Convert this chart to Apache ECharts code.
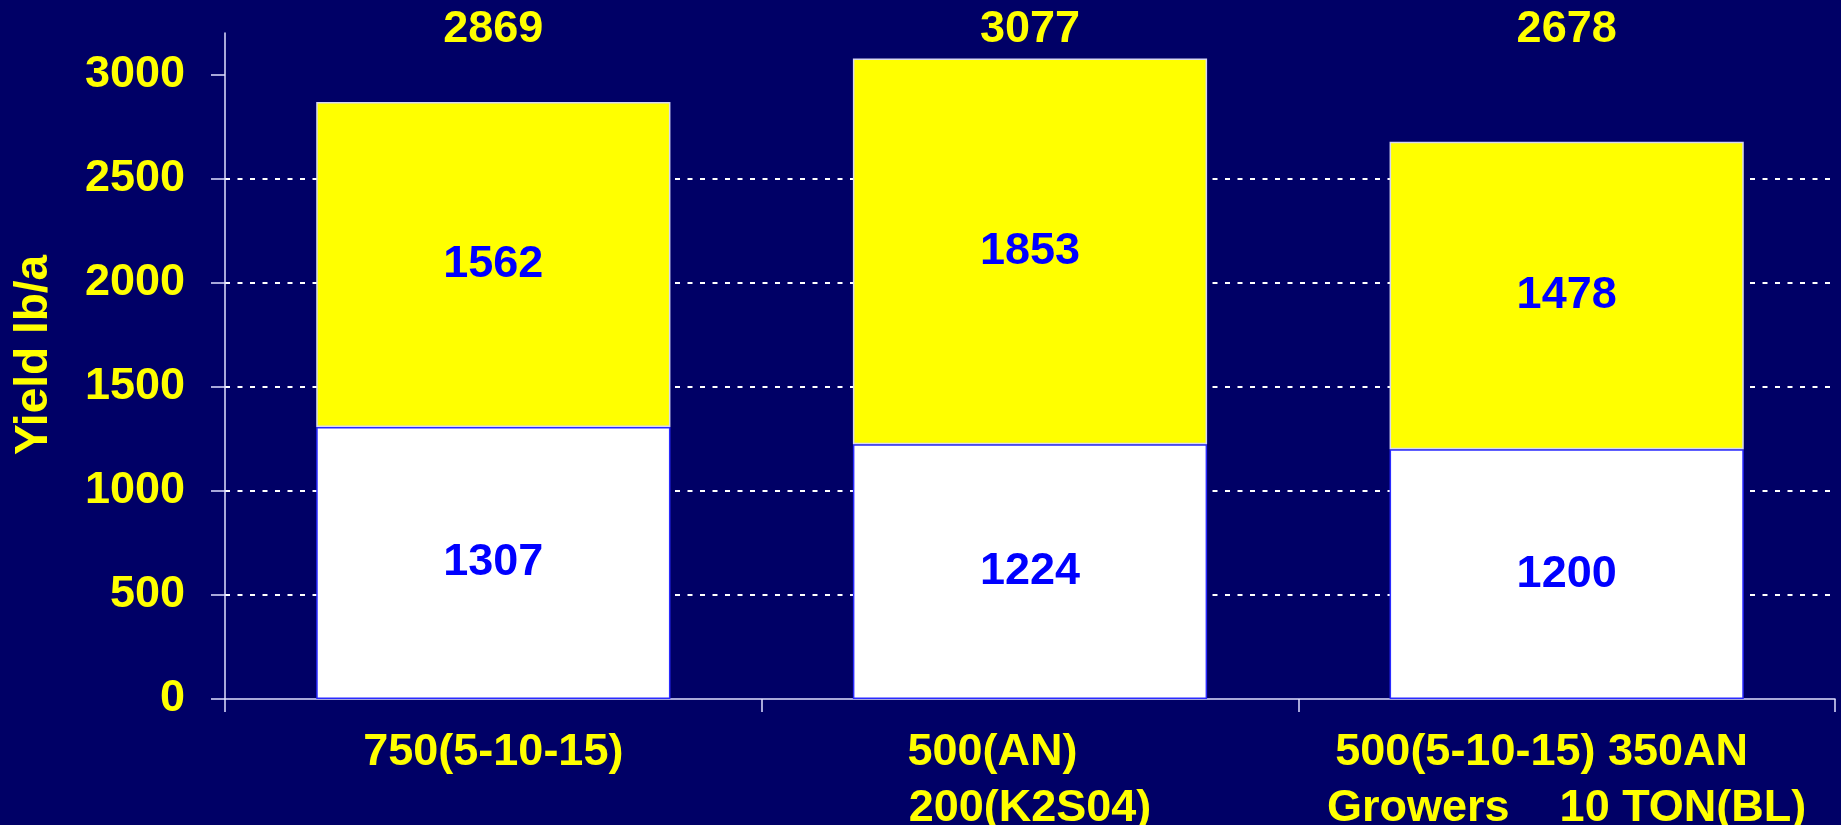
<!DOCTYPE html>
<html>
<head>
<meta charset="utf-8">
<script src="https://cdn.jsdelivr.net/npm/echarts@6/dist/echarts.min.js"></script>
<style>
html,body{margin:0;padding:0;background:#000066;}
#chart{width:1841px;height:825px;}
</style>
</head>
<body>
<div id="chart"></div>
<script>
const categories = [
  '750(5-10-15)',
  '500(AN)\u00a0\u00a0\u00a0\u00a0\u00a0\u00a0\n200(K2S04)',
  '500(5-10-15) 350AN\u00a0\u00a0\u00a0\u00a0\nGrowers\u00a0\u00a0\u00a0\u00a010 TON(BL)'
];
const baseValues = [1307, 1224, 1200];
const topValues = [1562, 1853, 1478];
const totalLabels = ['2869', '3077', '2678'];
const yTicks = [0, 500, 1000, 1500, 2000, 2500, 3000];

const FONT = '"Liberation Sans", Arial, sans-serif';
const FS = 45;
const YELLOW = '#ffff00';

const chart = echarts.init(document.getElementById('chart'), null, {renderer: 'canvas'});
chart.setOption({
  backgroundColor: '#000066',
  animation: false,
  grid: {left: 225, right: 6, top: 33, bottom: 126, containLabel: false, outerBoundsMode: 'none'},
  xAxis: [
    {
      type: 'category',
      data: categories,
      axisLine: {lineStyle: {color: '#e0e0ff', width: 1.5}},
      axisTick: {show: true, length: 13, lineStyle: {color: '#e0e0ff', width: 1.5}},
      axisLabel: {
        color: YELLOW, fontFamily: FONT, fontWeight: 'bold', fontSize: FS,
        lineHeight: 56, margin: 26, interval: 0, hideOverlap: false
      }
    },
    {
      type: 'category',
      position: 'top',
      data: totalLabels,
      axisLine: {show: false},
      axisTick: {show: false},
      axisLabel: {
        color: YELLOW, fontFamily: FONT, fontWeight: 'bold', fontSize: FS,
        margin: -19, interval: 0
      }
    }
  ],
  yAxis: {
    type: 'value',
    min: 0,
    max: 3200,
    interval: 500,
    name: 'Yield lb/a',
    nameLocation: 'middle',
    nameGap: 168,
    nameTextStyle: {color: YELLOW, fontFamily: FONT, fontWeight: 'bold', fontSize: 46, padding: [0, 0, 0, 22]},
    axisLine: {show: true, lineStyle: {color: '#e0e0ff', width: 1.5}},
    axisTick: {show: true, length: 14, customValues: yTicks, lineStyle: {color: '#e0e0ff', width: 1.5}},
    axisLabel: {
      color: YELLOW, fontFamily: FONT, fontWeight: 'bold', fontSize: FS,
      margin: 40, customValues: yTicks,
      formatter: function (v) { return String(v); }
    },
    splitLine: {
      show: true, showMinLine: false, showMaxLine: false,
      lineStyle: {color: '#ffffff', width: 2, type: [5, 7.5]}
    }
  },
  series: [
    {
      type: 'bar',
      stack: 'total',
      data: baseValues,
      barWidth: '66%',
      itemStyle: {color: '#ffffff', borderColor: '#2a2aff', borderWidth: 1.5},
      label: {
        show: true, position: 'inside', color: '#0000ff',
        fontFamily: FONT, fontWeight: 'bold', fontSize: FS
      }
    },
    {
      type: 'bar',
      stack: 'total',
      data: topValues,
      barWidth: '66%',
      itemStyle: {color: '#ffff00', borderColor: '#d8d8f0', borderWidth: 1.5},
      label: {
        show: true, position: 'inside', color: '#0000ff',
        fontFamily: FONT, fontWeight: 'bold', fontSize: FS
      }
    }
  ]
});
</script>
</body>
</html>
